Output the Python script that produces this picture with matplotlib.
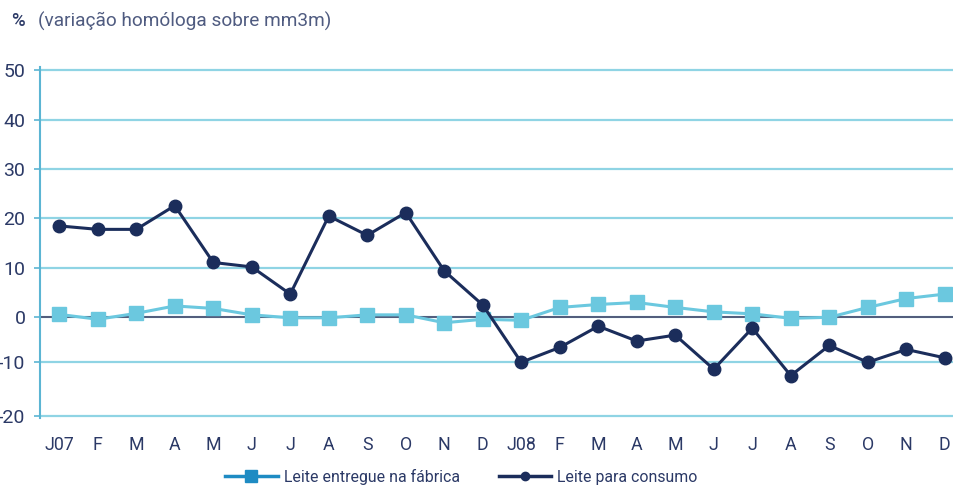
import matplotlib
matplotlib.use("Agg")
import matplotlib.pyplot as plt
from matplotlib.lines import Line2D

plt.rcParams['font.family'] = ['Roboto', 'DejaVu Sans']

categories = ["J07", "F", "M", "A", "M", "J", "J", "A", "S", "O", "N", "D",
              "J08", "F", "M", "A", "M", "J", "J", "A", "S", "O", "N", "D"]
leite_fabrica = [0.6, -0.4, 0.8, 2.3, 1.8, 0.5, -0.1, -0.1, 0.5, 0.5, -1.1, -0.4,
                 -0.6, 2.0, 2.6, 3.0, 2.0, 1.1, 0.7, -0.2, 0.0, 2.0, 3.8, 4.7]
leite_consumo = [18.5, 17.8, 17.8, 22.6, 11.1, 10.2, 4.7, 20.5, 16.6, 21.2, 9.4, 2.5,
                 -9.1, -6.1, -1.8, -4.8, -3.6, -10.5, -2.2, -11.8, -5.7, -9.1, -6.5, -8.2]
ytick_pos = [-20, -9, 0, 10, 20, 30, 40, 50]
ytick_labels = ["-20", "-10", "0", "10", "20", "30", "40", "50"]

text_col = "#2b3966"
grid_col = "#8fd4e4"
axis_col = "#5bb5d3"
light_col = "#6bc8df"
dark_col = "#1b2d5b"

fig = plt.figure(figsize=(9.54, 4.86), dpi=100)
ax = fig.add_axes([40/954, 0.1397, 924/954, 0.7218])

x = list(range(len(categories)))
ax.set_xlim(-0.5, 23.5)
ax.set_ylim(-20.4, 50.6)

ax.set_yticks(ytick_pos)
ax.set_yticklabels(ytick_labels)
ax.set_xticks(x)
ax.set_xticklabels(categories)

for s in ["top", "right", "bottom"]:
    ax.spines[s].set_visible(False)
ax.spines["left"].set_color(axis_col)
ax.spines["left"].set_linewidth(1.5)

ax.grid(axis="y", color=grid_col, linewidth=1.6, zorder=0)
ax.set_axisbelow(True)
ax.axhline(0, color="#4d5273", linewidth=1.3, zorder=1)

ax.tick_params(axis="y", length=4, width=1.2, color=axis_col, pad=6.5,
               labelsize=14, labelcolor=text_col)
ax.tick_params(axis="x", length=0, pad=13, labelsize=12.8, labelcolor=text_col)

ax.plot(x, leite_fabrica, color=light_col, linewidth=2.2, marker="s",
        markersize=9.5, zorder=3, clip_on=False)
ax.plot(x, leite_consumo, color=dark_col, linewidth=2.2, marker="o",
        markersize=9, zorder=4, clip_on=False)

fig.text(11/954, 1 - 21/486, "%", color=text_col, fontsize=13.5, va="center",
         ha="left", fontweight="medium")
fig.text(38/954, 1 - 21/486, "(variação homóloga sobre mm3m)", color="#4f5b80",
         fontsize=13.7, va="center", ha="left")

handles = [
    Line2D([0], [0], color="#1e8bc3", linewidth=2.5, marker="s", markersize=8),
    Line2D([0], [0], color=dark_col, linewidth=2.5, marker="o", markersize=6),
]
leg = fig.legend(handles, ["Leite entregue na fábrica", "Leite para consumo"],
                 loc="center", bbox_to_anchor=(461.5/954, 1 - 477/486), ncol=2,
                 frameon=False, fontsize=11.4, handlelength=3.3,
                 handletextpad=0.38, columnspacing=2.5, labelcolor=text_col,
                 borderpad=0, borderaxespad=0)

fig.savefig("out.png", dpi=100)
